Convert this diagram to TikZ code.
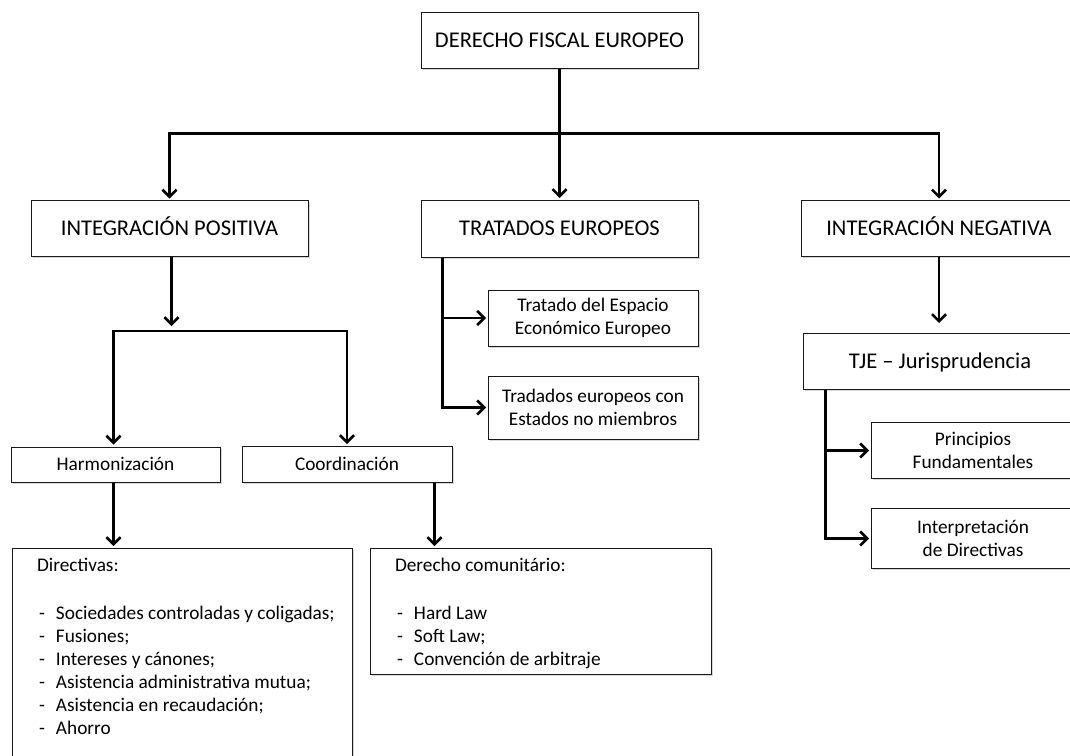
\documentclass[tikz,border=0pt]{standalone}
\usepackage{fontspec}
\setmainfont{Carlito}
\usepackage{xcolor}
\definecolor{BoxLine}{RGB}{25,25,25}
\usetikzlibrary{arrows.meta, positioning, shadows}

\newcommand{\itm}[1]{\mbox{\makebox[19pt][l]{\hspace{2pt}-}#1}}

\tikzset{
  % Rectangular boxes
  mainbox/.style={
    rectangle, draw=BoxLine, line width=1pt, fill=white,
    align=center, inner sep=2pt,
    minimum width=277pt, minimum height=56pt,
    font=\fontsize{22.5}{27}\selectfont,
    text height=17pt, text depth=2.5pt,
    drop shadow={shadow xshift=1.5pt, shadow yshift=-1.5pt, fill=black!30, opacity=0.5}
  },
  subbox/.style={mainbox, minimum width=210pt, font=\fontsize{19.3}{23}\selectfont,
    text height=, text depth=},
  onesub/.style={subbox, text height=13.5pt, text depth=1.5pt},
  listbox/.style={subbox, align=flush left, inner xsep=25pt, inner ysep=6pt},
  % Connectors
  conn/.style={line width=2.6pt, black},
  arr/.style={conn, ->, shorten >=1.5pt},
}

\begin{document}
\begin{tikzpicture}[x=1pt, y=-1pt, >={Straight Barb[length=7pt,width=14pt]}]

  \fill[white] (0,0) rectangle (1070,755);
  \useasboundingbox (0,0) rectangle (1070,755);
  \clip (0,0) rectangle (1070,755);

  %% ---- TOP ----
  \node[mainbox] (dfe) at (559.5,40) {DERECHO FISCAL EUROPEO};

  %% ---- SECOND LEVEL ----
  \node[mainbox, below=131pt of dfe, minimum height=57pt] (trat) {TRATADOS EUROPEOS};
  \node[mainbox, left=112pt of trat] (ipos) {INTEGRACIÓN POSITIVA};
  \node[mainbox, right=102pt of trat, minimum width=276pt] (ineg) {INTEGRACIÓN NEGATIVA};

  %% Tratados
  \node[subbox, below=32pt of trat.south east, anchor=north east] (tee)
    {Tratado del Espacio\\Económico Europeo};
  \node[subbox, below=29pt of tee, minimum height=63pt] (tnm)
    {Tradados europeos con\\Estados no miembros};

  %% Integracion negativa
  \node[mainbox, below=76pt of ineg, minimum width=274pt, xshift=1pt] (tje)
    {TJE -- Jurisprudencia};
  \node[subbox, minimum width=204pt, below=32pt of tje.south east, anchor=north east,
        xshift=-2pt] (princ) {Principios\\Fundamentales};
  \node[subbox, minimum width=204pt, minimum height=60pt, below=29pt of princ] (interp)
    {Interpretación\\de Directivas};

  %% Integracion positiva
  \node[onesub, minimum width=209pt, minimum height=35pt] (harm) at (115.5,464.5)
    {Harmonización};
  \node[onesub, minimum height=36pt, right=21pt of harm] (coord) {Coordinación};

  \node[listbox, text width=290pt, below=65pt of harm.south west, anchor=north west,
        xshift=1pt] (dir)
    {\rule{0pt}{17pt}Directivas:\\[25pt]
     \itm{Sociedades controladas y coligadas;}\\
     \itm{Fusiones;}\\
     \itm{Intereses y cánones;}\\
     \itm{Asistencia administrativa mutua;}\\
     \itm{Asistencia en recaudación;}\\
     \itm{Ahorro}\\[20pt]
     \mbox{}};
  \node[listbox, text width=291pt, right=17pt of dir.north east, anchor=north west] (dcom)
    {\rule{0pt}{17pt}Derecho comunitário:\\[25pt]
     \itm{Hard Law}\\
     \itm{Soft Law;}\\
     \itm{Convención de arbitraje}};

  %% Connectors: top level
  \coordinate (bar) at ([yshift=-65pt]dfe.south);
  \draw[arr] (dfe) -- (trat);
  \draw[conn, <->, shorten <=1.5pt, shorten >=1.5pt]
    (ipos.north) -- (ipos.north |- bar) -- (ineg.north |- bar) -- (ineg.north);

  %% Integracion positiva
  \coordinate (ipsplit) at ([yshift=-74pt, xshift=2pt]ipos.south);
  \draw[arr, shorten >=5pt] ([xshift=2pt]ipos.south) -- (ipsplit);
  \draw[conn, <->, shorten <=2pt, shorten >=2pt]
    ([xshift=-2pt]harm.north) -- ([xshift=-2pt]harm.north |- ipsplit)
    -- (coord.north |- ipsplit) -- (coord.north);
  \draw[arr] ([xshift=-2pt]harm.south) -- ([xshift=-2pt]harm.south |- dir.north);
  \draw[arr] ([xshift=-18pt]coord.south east) -- ([xshift=-18pt]coord.south east |- dcom.north);

  %% Tratados
  \coordinate (tstem) at ([xshift=22pt]trat.south west);
  \draw[arr] (tstem) |- (tee.west);
  \draw[arr] (tstem) |- (tnm.west);

  %% Integracion negativa
  \draw[arr, shorten >=10pt] (ineg.south) -- (ineg.south |- tje.north);
  \coordinate (jstem) at ([xshift=23pt]tje.south west);
  \draw[arr] (jstem) |- (princ.west);
  \draw[arr] (jstem) |- (interp.west);

\end{tikzpicture}
\end{document}
